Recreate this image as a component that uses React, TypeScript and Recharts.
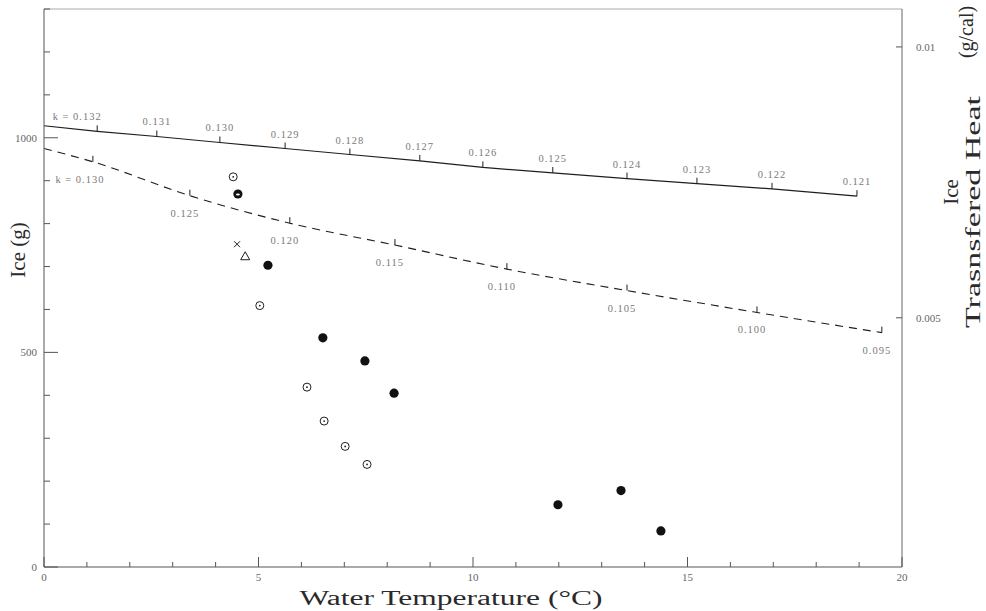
import React from 'react';
import { ComposedChart, Line, Scatter, XAxis, YAxis, LabelList, ReferenceLine, Customized } from 'recharts';

// solid curve (upper) with its k marks
const solidTemp = [0, 1.24, 2.63, 4.1, 5.62, 7.13, 8.76, 10.23, 11.86, 13.59, 15.22, 16.97, 18.95];
const solidIce = [1028, 1015, 1003, 989, 975, 961, 946, 931, 918, 905, 893, 881, 864];
const solidK = ['', 'k = 0.132', '0.131', '0.130', '0.129', '0.128', '0.127', '0.126', '0.125', '0.124', '0.123', '0.122', '0.121'];

// dashed curve (lower) with its k marks
const dashedTemp = [0, 1.14, 3.4, 5.73, 8.18, 10.79, 13.59, 16.62, 19.53];
const dashedIce = [975, 944, 865, 801, 750, 694, 644, 593, 546];
const dashedK = ['', 'k = 0.130', '0.125', '0.120', '0.115', '0.110', '0.105', '0.100', '0.095'];

// measured points
const openTemp = [4.41, 5.03, 6.13, 6.53, 7.02, 7.53];
const openIce = [909, 609, 419, 340, 281, 239];
const filledTemp = [5.22, 6.5, 7.48, 8.16, 11.98, 13.45, 14.38];
const filledIce = [703, 534, 480, 405, 145, 178, 84];
const ringTemp = [4.52];
const ringIce = [869];
const crossTemp = [4.5];
const crossIce = [752];
const triTemp = [4.69];
const triIce = [724];

const xTicks = [0, 1, 2, 3, 4, 5, 6, 7, 8, 9, 10, 11, 12, 13, 14, 15, 16, 17, 18, 19, 20];
const xLabelled = [0, 5, 10, 15, 20];
const yTicks = [0, 100, 200, 300, 400, 500, 600, 700, 800, 900, 1000, 1100, 1200, 1300];
const yLabelled = [0, 500, 1000];
const rightTicks = [0.005, 0.01];
const rightLabels = ['0.005', '0.01'];

const serif = "'Liberation Serif', 'DejaVu Serif', serif";
const ink = '#1e1e1e';

const zip = (xs: number[], ys: number[], ks?: string[]) =>
  xs.map((t, i) => ({ temp: t, ice: ys[i], k: ks ? ks[i] : '' }));

const solidData = zip(solidTemp, solidIce, solidK);
const dashedData = zip(dashedTemp, dashedIce, dashedK);

const LeftTick = (props: any) => {
  const { x, y, payload } = props;
  const v = payload.value;
  const major = yLabelled.includes(v);
  const ax = x + 7;
  return (
    <g>
      <line x1={ax} y1={y} x2={ax + (major ? 14 : 6)} y2={y} stroke="#555" strokeWidth={1} />
      {major && (
        <text x={x} y={y} dy={4} textAnchor="end" fontFamily={serif} fontSize={11} fill="#666">
          {v}
        </text>
      )}
    </g>
  );
};

const BottomTick = (props: any) => {
  const { x, y, payload } = props;
  const v = payload.value;
  const major = xLabelled.includes(v);
  const ay = y - 6;
  return (
    <g>
      <line x1={x} y1={ay} x2={x} y2={ay - (major ? 10 : 5)} stroke="#555" strokeWidth={1} />
      {major && (
        <text x={x} y={y} dy={8} textAnchor="middle" fontFamily={serif} fontSize={11} fill="#666">
          {v}
        </text>
      )}
    </g>
  );
};

const RightTick = (props: any) => {
  const { x, y, payload } = props;
  const ax = x - 6;
  const i = rightTicks.indexOf(payload.value);
  return (
    <g>
      <line x1={ax} y1={y} x2={ax - 6} y2={y} stroke="#555" strokeWidth={1} />
      <text x={x + 8} y={y} dy={4} textAnchor="start" fontFamily={serif} fontSize={11} fill="#666">
        {i >= 0 ? rightLabels[i] : payload.value}
      </text>
    </g>
  );
};

const kMark = (p: any) => {
  if (p.index === 0) return <g key={`m${p.index}`} />;
  return <line key={`m${p.index}`} x1={p.cx} y1={p.cy} x2={p.cx} y2={p.cy - 6} stroke={ink} strokeWidth={1} />;
};

const kStyle = { fontFamily: serif, fontSize: 10.5, fill: '#7a7a7a', letterSpacing: 1 };

const solidLabel = (p: any) => {
  const { x, y, value } = p;
  if (!value) return null;
  const first = String(value).startsWith('k');
  return (
    <text x={first ? x - 20 : x} y={y - 11} textAnchor="middle" style={kStyle}>
      {value}
    </text>
  );
};

const dashedLabel = (p: any) => {
  const { x, y, value } = p;
  if (!value) return null;
  const first = String(value).startsWith('k');
  return (
    <text x={first ? x - 13 : x - 5} y={y + 21} textAnchor="middle" style={kStyle}>
      {value}
    </text>
  );
};

const OpenDot = (p: any) => (
  <g>
    <circle cx={p.cx} cy={p.cy} r={4} fill="#fff" stroke={ink} strokeWidth={1} />
    <circle cx={p.cx} cy={p.cy} r={0.9} fill={ink} />
  </g>
);

const FilledDot = (p: any) => <circle cx={p.cx} cy={p.cy} r={4.6} fill="#111" />;

const RingDot = (p: any) => (
  <g>
    <circle cx={p.cx} cy={p.cy} r={4.6} fill="#111" />
    <ellipse cx={p.cx} cy={p.cy + 0.5} rx={2} ry={1} fill="#fff" />
  </g>
);

const Cross = (p: any) => (
  <g stroke={ink} strokeWidth={1}>
    <line x1={p.cx - 3} y1={p.cy - 3} x2={p.cx + 3} y2={p.cy + 3} />
    <line x1={p.cx - 3} y1={p.cy + 3} x2={p.cx + 3} y2={p.cy - 3} />
  </g>
);

const Triangle = (p: any) => (
  <polygon
    points={`${p.cx},${p.cy - 4.5} ${p.cx - 4.5},${p.cy + 3.5} ${p.cx + 4.5},${p.cy + 3.5}`}
    fill="#fff"
    stroke={ink}
    strokeWidth={1}
  />
);

const Titles = () => (
  <g fontFamily={serif} fill="#2a2a2a">
    <text x={451} y={605} textAnchor="middle" fontSize={20} textLength={303} lengthAdjust="spacingAndGlyphs">
      Water Temperature (°C)
    </text>
    <text transform="translate(25,250) rotate(-90)" textAnchor="middle" fontSize={21}>
      Ice (g)
    </text>
    <text transform="translate(958,192) rotate(-90)" textAnchor="middle" fontSize={21}>
      Ice
    </text>
    <text
      transform="translate(980,212) rotate(-90)"
      textAnchor="middle"
      fontSize={20}
      textLength={232}
      lengthAdjust="spacingAndGlyphs"
    >
      Trasnsfered Heat
    </text>
    <text transform="translate(973,32) rotate(-90)" textAnchor="middle" fontSize={20}>
      (g/cal)
    </text>
  </g>
);

export default function App() {
  return (
    <div style={{ position: 'absolute', left: 0, top: 0, background: '#fff' }}>
      <ComposedChart width={986} height={611} margin={{ top: 9, right: 0, bottom: 0, left: 0 }}>
        <XAxis
          xAxisId="t"
          dataKey="temp"
          type="number"
          domain={[0, 20]}
          ticks={xTicks}
          interval={0}
          height={44}
          tickSize={0}
          tickMargin={6}
          tick={<BottomTick />}
          axisLine={{ stroke: '#555' }}
          tickLine={false}
        />
        <YAxis
          yAxisId="left"
          type="number"
          domain={[0, 1300]}
          ticks={yTicks}
          interval={0}
          width={44}
          tickSize={0}
          tickMargin={7}
          tick={<LeftTick />}
          axisLine={{ stroke: '#555' }}
          tickLine={false}
        />
        <YAxis
          yAxisId="right"
          orientation="right"
          type="number"
          domain={[0.0004, 0.0107]}
          allowDataOverflow
          ticks={rightTicks}
          interval={0}
          width={84}
          tickSize={0}
          tickMargin={6}
          tick={<RightTick />}
          axisLine={{ stroke: '#666' }}
          tickLine={false}
        />
        <ReferenceLine xAxisId="t" yAxisId="left" y={1300} stroke="#aaa" strokeWidth={1} />

        <Line
          xAxisId="t"
          yAxisId="left"
          data={solidData}
          dataKey="ice"
          type="linear"
          stroke={ink}
          strokeWidth={1.2}
          dot={kMark}
          activeDot={false}
          isAnimationActive={false}
        >
          <LabelList dataKey="k" content={solidLabel} />
        </Line>
        <Line
          xAxisId="t"
          yAxisId="left"
          data={dashedData}
          dataKey="ice"
          type="monotone"
          stroke={ink}
          strokeWidth={1.1}
          strokeDasharray="8 6"
          dot={kMark}
          activeDot={false}
          isAnimationActive={false}
        >
          <LabelList dataKey="k" content={dashedLabel} />
        </Line>

        <Scatter xAxisId="t" yAxisId="left" data={zip(openTemp, openIce)} dataKey="ice" shape={OpenDot} isAnimationActive={false} />
        <Scatter xAxisId="t" yAxisId="left" data={zip(filledTemp, filledIce)} dataKey="ice" shape={FilledDot} isAnimationActive={false} />
        <Scatter xAxisId="t" yAxisId="left" data={zip(ringTemp, ringIce)} dataKey="ice" shape={RingDot} isAnimationActive={false} />
        <Scatter xAxisId="t" yAxisId="left" data={zip(crossTemp, crossIce)} dataKey="ice" shape={Cross} isAnimationActive={false} />
        <Scatter xAxisId="t" yAxisId="left" data={zip(triTemp, triIce)} dataKey="ice" shape={Triangle} isAnimationActive={false} />

        <Customized component={Titles} />
      </ComposedChart>
    </div>
  );
}
